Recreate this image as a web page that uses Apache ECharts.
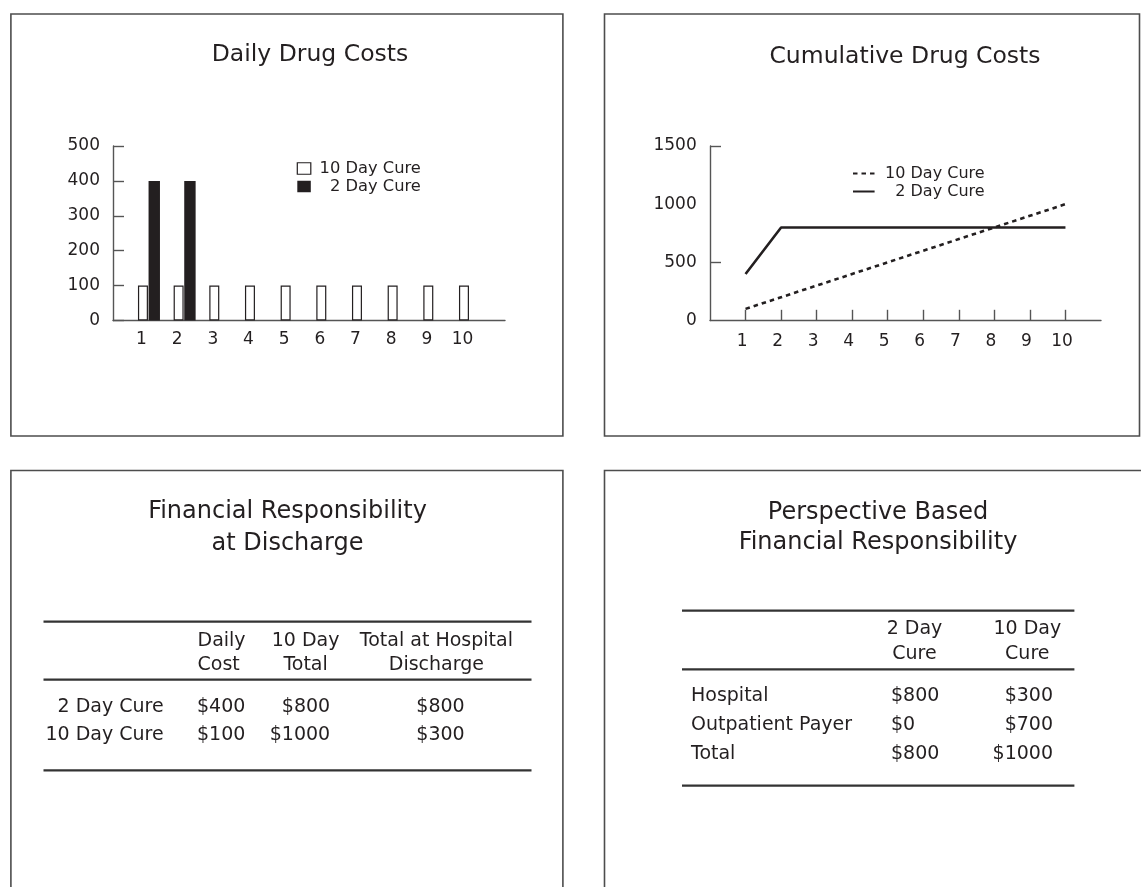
<!DOCTYPE html>
<html>
<head>
<meta charset="utf-8">
<script src="https://cdn.jsdelivr.net/npm/echarts@6/dist/echarts.min.js"></script>
<style>
  html, body { margin: 0; padding: 0; background: #ffffff; }
  #main { width: 1141px; height: 887px; }
</style>
</head>
<body>
<div id="main"></div>
<script>
// ---- data ----
const days = [1, 2, 3, 4, 5, 6, 7, 8, 9, 10];
const dailyTenDay = [100, 100, 100, 100, 100, 100, 100, 100, 100, 100];
const dailyTwoDay = [400, 400];                 // only days 1 and 2
const cumulativeTenDay = [100, 200, 300, 400, 500, 600, 700, 800, 900, 1000];
const cumulativeTwoDay = [400, 800, 800, 800, 800, 800, 800, 800, 800, 800];
const dailyTicks = [0, 100, 200, 300, 400, 500];
const cumulativeTicks = [0, 500, 1000, 1500];
const cumulativeTickMarks = [500, 1500];
const cureNames = ['10 Day Cure', '2 Day Cure'];

const dischargeHeader = [['Daily', 'Cost'], ['10 Day', 'Total'], ['Total at Hospital', 'Discharge']];
const dischargeRows = ['2 Day Cure', '10 Day Cure'];
const dischargeValues = [[400, 800, 800], [100, 1000, 300]];

const perspectiveHeader = [['2 Day', 'Cure'], ['10 Day', 'Cure']];
const perspectiveRows = ['Hospital', 'Outpatient Payer', 'Total'];
const perspectiveValues = [[800, 300], [0, 700], [800, 1000]];

// ---- style ----
const FONT = 'DejaVu Sans';
const INK = '#231f20';
const AXIS = '#555555';
const money = v => '$' + v;

const chart = echarts.init(document.getElementById('main'), null, { renderer: 'canvas' });

const seriesLabel = {
  daily10: cureNames[0], daily2: cureNames[1],
  cum10: cureNames[0], cum2: cureNames[1]
};

// table text helpers
function cell(text, x, y, align) {
  return {
    type: 'text', x: x, y: y, silent: true,
    style: { text: text, fill: INK, fontSize: 19, fontFamily: FONT, align: align, verticalAlign: 'middle' }
  };
}
function rule(x1, x2, y) {
  return { type: 'line', silent: true, shape: { x1: x1, y1: y, x2: x2, y2: y }, style: { stroke: '#333333', lineWidth: 2.2 } };
}

const graphics = [];
// panel frames
[[10.9, 14, 552, 422], [604.5, 14, 535, 422], [10.9, 470.5, 552, 500], [604.5, 470.5, 600, 500]].forEach(r => {
  graphics.push({ type: 'rect', silent: true, shape: { x: r[0], y: r[1], width: r[2], height: r[3] },
    style: { fill: 'none', stroke: '#4d4d4d', lineWidth: 1.6 } });
});

// table: financial responsibility at discharge
graphics.push(rule(43.5, 531.5, 621.7), rule(43.5, 531.5, 679.7), rule(43.5, 531.5, 770.3));
const dHeadX = [[197.5, 'left'], [305.6, 'center'], [436.4, 'center']];
const dHeadY = [641, 665.5];
dischargeHeader.forEach((lines, c) => lines.forEach((t, r) => graphics.push(cell(t, dHeadX[c][0], dHeadY[r], dHeadX[c][1]))));
const dRowY = [707, 735.4];
const dValX = [[197, 'left'], [330.2, 'right'], [440.5, 'center']];
dischargeRows.forEach((name, r) => {
  graphics.push(cell(name, 163.6, dRowY[r], 'right'));
  dischargeValues[r].forEach((v, c) => graphics.push(cell(money(v), dValX[c][0], dRowY[r], dValX[c][1])));
});

// table: perspective based financial responsibility
graphics.push(rule(682, 1074.4, 610.7), rule(682, 1074.4, 669.3), rule(682, 1074.4, 785.7));
const pHeadX = [914.5, 1027.3];
const pHeadY = [629.5, 654.2];
perspectiveHeader.forEach((lines, c) => lines.forEach((t, r) => graphics.push(cell(t, pHeadX[c], pHeadY[r], 'center'))));
const pRowY = [696.2, 725, 754];
const pValX = [[891, 'left'], [1053, 'right']];
perspectiveRows.forEach((name, r) => {
  graphics.push(cell(name, 691, pRowY[r], 'left'));
  perspectiveValues[r].forEach((v, c) => graphics.push(cell(money(v), pValX[c][0], pRowY[r], pValX[c][1])));
});

const titleStyle = (size, lh) => ({ fontFamily: FONT, fontSize: size, fontWeight: 'normal', color: INK, lineHeight: lh });
const axisLine = { show: true, lineStyle: { color: AXIS, width: 1.4 } };
const tickLabel = (margin, extra) => Object.assign({
  margin: margin, fontFamily: FONT, fontSize: 17, color: INK, formatter: v => String(v)
}, extra || {});

function legendFor(left, top, iw, ih, textW, size, data, extra) {
  return Object.assign({
    orient: 'vertical', left: left, top: top, padding: 0,
    itemWidth: iw, itemHeight: ih, itemGap: 2, selectedMode: false,
    data: data,
    formatter: n => '{t|' + seriesLabel[n] + '}',
    textStyle: { rich: { t: { width: textW, align: 'right', fontFamily: FONT, fontSize: size, lineHeight: size + 1, color: INK } } }
  }, extra || {});
}

const option = {
  backgroundColor: '#ffffff',
  animation: false,
  title: [
    { text: 'Daily Drug Costs', left: 310, top: 41, textAlign: 'center', padding: 0, textStyle: titleStyle(23.5, 28) },
    { text: 'Cumulative Drug Costs', left: 905, top: 42.7, textAlign: 'center', padding: 0, textStyle: titleStyle(23.5, 28) },
    { text: 'Financial Responsibility\nat Discharge', left: 287.5, top: 495.8, textAlign: 'center', padding: 0, textStyle: titleStyle(24, 32) },
    { text: 'Perspective Based\nFinancial Responsibility', left: 878, top: 497.5, textAlign: 'center', padding: 0, textStyle: titleStyle(24, 30.3) }
  ],
  legend: [
    legendFor(296.7, 160.5, 13.5, 11.5, 105, 16.3, [
      { name: 'daily10', icon: 'rect', itemStyle: { color: '#ffffff', borderColor: INK, borderWidth: 1.2 } },
      { name: 'daily2', icon: 'rect', itemStyle: { color: INK, borderWidth: 0 } }
    ]),
    legendFor(852, 165.5, 21.6, 14, 105, 16, ['cum10', 'cum2'], { itemStyle: { opacity: 0 } })
  ],
  grid: [
    { left: 113, top: 146, width: 392, height: 174.5, outerBoundsMode: 'none', containLabel: false },
    { left: 710, top: 146, width: 391, height: 174.5, outerBoundsMode: 'none', containLabel: false }
  ],
  xAxis: [
    { gridIndex: 0, type: 'value', min: 0.16, max: 11.15, axisLine: axisLine, axisTick: { show: false },
      axisLabel: tickLabel(11, { customValues: days, padding: [0, 3, 0, 0] }), splitLine: { show: false } },
    { gridIndex: 1, type: 'value', min: 0, max: 11, axisLine: axisLine,
      axisTick: { show: true, inside: true, length: 10.7, customValues: days, lineStyle: { color: AXIS, width: 1.4 } },
      axisLabel: tickLabel(13, { customValues: days, padding: [0, 7, 0, 0] }), splitLine: { show: false } }
  ],
  yAxis: [
    { gridIndex: 0, type: 'value', min: dailyTicks[0], max: dailyTicks[dailyTicks.length - 1],
      interval: dailyTicks[1] - dailyTicks[0], axisLine: axisLine,
      axisTick: { show: true, inside: true, length: 11, lineStyle: { color: AXIS, width: 1.4 } },
      axisLabel: tickLabel(13), splitLine: { show: false } },
    { gridIndex: 1, type: 'value', min: cumulativeTicks[0], max: cumulativeTicks[cumulativeTicks.length - 1],
      interval: cumulativeTicks[1] - cumulativeTicks[0], axisLine: axisLine,
      axisTick: { show: true, inside: true, length: 11, customValues: cumulativeTickMarks, lineStyle: { color: AXIS, width: 1.4 } },
      axisLabel: tickLabel(13.3, { customValues: cumulativeTicks }), splitLine: { show: false } }
  ],
  graphic: { elements: graphics },
  series: [
    { name: 'daily10', type: 'bar', xAxisIndex: 0, yAxisIndex: 0, barWidth: 10,
      data: days.map((d, i) => [d, dailyTenDay[i]]),
      itemStyle: { color: '#ffffff', borderColor: INK, borderWidth: 1.2 } },
    { name: 'daily2', type: 'custom', xAxisIndex: 0, yAxisIndex: 0,
      data: dailyTwoDay.map((v, i) => [days[i], v]),
      itemStyle: { color: INK },
      renderItem: function (params, api) {
        const base = api.coord([api.value(0), 0]);
        const top = api.coord([api.value(0), api.value(1)]);
        // black bar sits directly to the right of the white bar for the same day
        return { type: 'rect', shape: { x: base[0] + 5.6, y: top[1], width: 11.4, height: base[1] - top[1] },
          style: { fill: INK } };
      } },
    { name: 'cum10', type: 'line', xAxisIndex: 1, yAxisIndex: 1, symbol: 'none',
      data: days.map((d, i) => [d, cumulativeTenDay[i]]),
      itemStyle: { color: INK },
      lineStyle: { color: INK, width: 2.6, type: [4.5, 4] } },
    { name: 'cum2', type: 'line', xAxisIndex: 1, yAxisIndex: 1, symbol: 'none',
      data: days.map((d, i) => [d, cumulativeTwoDay[i]]),
      itemStyle: { color: INK },
      lineStyle: { color: INK, width: 2.6, type: 'solid' } }
  ]
};

chart.setOption(option);
</script>
</body>
</html>
